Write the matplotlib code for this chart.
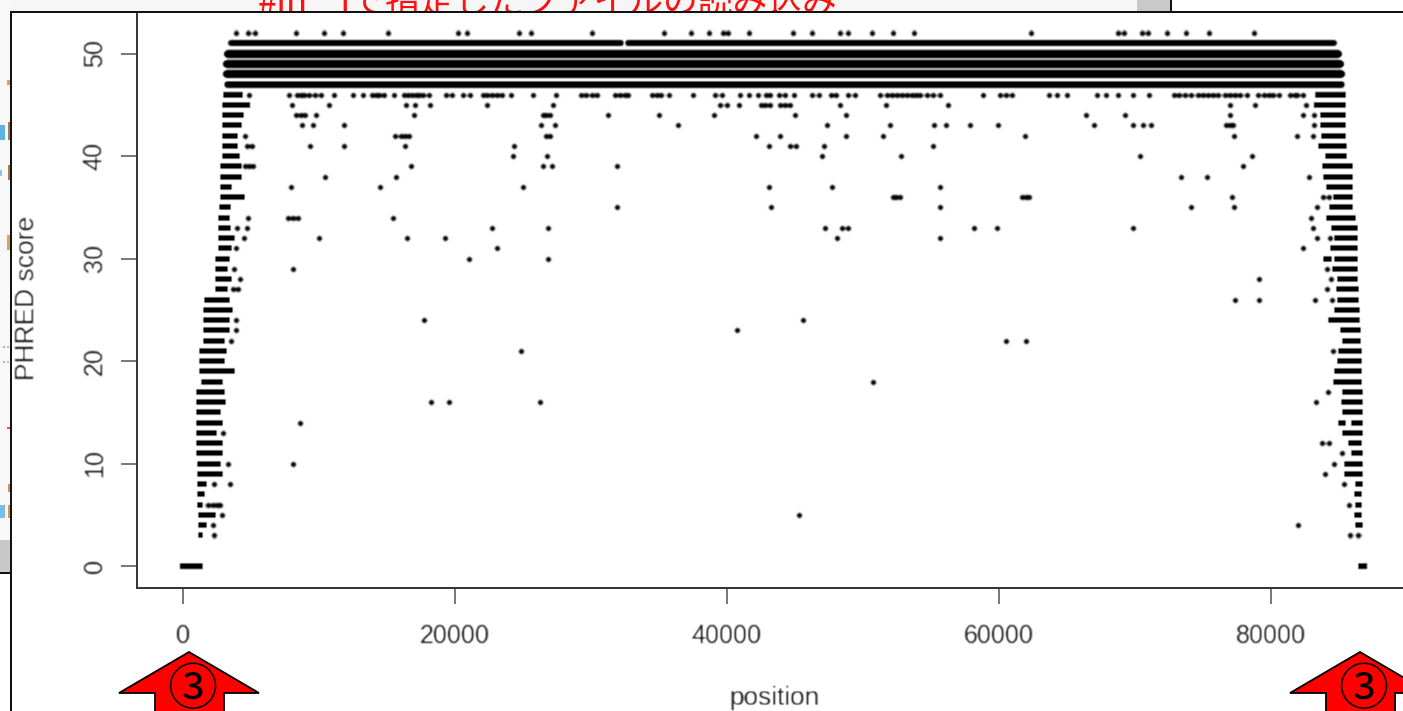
import numpy as np
import matplotlib
matplotlib.use("Agg")
import matplotlib.pyplot as plt
from matplotlib.patches import Polygon, Rectangle
from matplotlib.transforms import Affine2D, Bbox

W, H = 1403, 711

x_ticks = [0, 20000, 40000, 60000, 80000]
y_ticks = [0, 10, 20, 30, 40, 50]
x_label = "position"
y_label = "PHRED score"
clipped_title_head = "#in_"
clipped_title_tail = "fで指定したファイルの読み込み"
arrow_mark = "③"

# dense bands at the top of the plot
band_scores = [51, 51, 50, 49, 48, 47]
band_start = [3500, 32700, 3300, 3250, 3250, 3250]
band_end = [32250, 84650, 84950, 85100, 85150, 85200]

# dense runs at the read start
left_scores = [46, 45, 44, 43, 42, 41, 40, 39, 38, 37, 36, 35, 34, 33, 32, 31, 30, 29, 28, 27, 26, 25, 24,
               23, 22, 21, 20, 19, 18, 17, 16, 15, 14, 13, 12, 11, 10, 9, 8, 7, 6, 5, 4, 3, 0]
left_start = [2940, 2870, 2870, 2870, 2870, 2870, 2870, 2720, 2720, 2720, 2720, 2650, 2570, 2570, 2570, 2570,
              2350, 2350, 2350, 2350, 1540, 1470, 1470, 1470, 1470, 1180, 1180, 1180, 1320, 960, 960, 960, 960,
              960, 960, 960, 1030, 1030, 1030, 1030, 1030, 1100, 1100, 1100, -220]
left_end = [4410, 4930, 4490, 4340, 4040, 4040, 4190, 4340, 4340, 3600, 4560, 3530, 3460, 3530, 3820, 3600,
            3460, 3310, 3600, 3310, 3460, 3680, 3460, 3460, 3090, 3240, 3090, 3820, 2940, 3090, 3160, 2790,
            2940, 2500, 2940, 2940, 2790, 2940, 1760, 1620, 1470, 2430, 1760, 1470, 1470]

# dense runs at the read end
right_scores = [46, 45, 44, 43, 42, 41, 40, 39, 38, 37, 36, 35, 34, 33, 32, 31, 30, 30, 29, 28, 27, 26, 25, 24,
                23, 22, 21, 20, 19, 18, 17, 16, 15, 14, 14, 13, 12, 11, 10, 9, 8, 7, 6, 5, 4, 0]
right_start = [83240, 83160, 83600, 83600, 83680, 83460, 83970, 83750, 83820, 84050, 84560, 84270, 84050, 84410,
               84630, 84340, 83820, 84630, 84490, 84850, 84780, 84850, 84630, 84190, 85070, 85220, 84930, 84850,
               84630, 84560, 85220, 85150, 85220, 84930, 85880, 85220, 85660, 85880, 85370, 85370, 86180, 86100,
               86180, 86100, 86180, 86400]
right_end = [85520, 85520, 85520, 85520, 85520, 85590, 85590, 86030, 86030, 86030, 86030, 86030, 86250, 86400,
             86400, 86400, 84490, 86400, 86400, 86400, 86470, 86470, 86550, 86550, 86620, 86620, 86690, 86690,
             86690, 86690, 86770, 86770, 86770, 85520, 86770, 86770, 86690, 86770, 86770, 86770, 86770, 86690,
             86690, 86690, 86770, 87060]

# isolated reads, one list per score
dots_52 = [3900, 4800, 5300, 8300, 10400, 11800, 15100, 20200, 20900, 24700, 25600, 30100, 35400, 37400, 38700,
           39700, 40100, 41600, 44900, 46250, 48300, 48900, 50700, 52200, 53800, 62400, 68750, 69200, 70500, 71000,
           72400, 73800, 75500, 78800]
dots_46 = [4850, 7790, 8380, 8680, 8900, 9260, 9710, 10150, 11100, 12500, 13240, 13900, 14190, 14410, 14780, 15510,
           16250, 16540, 16840, 17130, 17350, 17650, 18090, 19340, 19780, 20590, 21100, 22060, 22350, 22720, 23090,
           23460, 24120, 25740, 27430, 29270, 29630, 30070, 30440, 31770, 32130, 32500, 32720, 34490, 34850, 35150,
           35740, 37500, 39120, 39630, 40960, 41620, 42280, 42870, 43160, 43820, 44270, 44930, 46250, 46770, 47650,
           48020, 48900, 49410, 51250, 51770, 52130, 52500, 52870, 53240, 53600, 53900, 54190, 54710, 55150, 55660,
           58820, 60070, 60520, 60960, 63680, 64270, 65000, 67210, 67870, 68750, 69850, 71030, 72870, 73240, 73680,
           74120, 74630, 75000, 75370, 75740, 76100, 76620, 76990, 77350, 77720, 78240, 79040, 79540, 79900, 80200,
           80590, 81400, 81760, 81910, 82350]
dots_45 = [8010, 10740, 16400, 17060, 18160, 22350, 27210, 39490, 40000, 40880, 42500, 42790, 43160, 43900, 44270,
           44630, 48310, 51690, 56250, 76990, 78820, 82570]
dots_44 = [8310, 8680, 8970, 9780, 16990, 26470, 26690, 26990, 31250, 35000, 39040, 45000, 48750, 66400, 69270,
           76990, 82350, 83160]
dots_43 = [8750, 9560, 11840, 26320, 27350, 36400, 47350, 51990, 55220, 56100, 57870, 59930, 66990, 69850, 70590,
           71180, 76690, 76990, 77210, 83160]
dots_42 = [4560, 15590, 16030, 16320, 16620, 26690, 26990, 42130, 43900, 48750, 51470, 61910, 77280, 81950, 83090]
dots_41 = [4710, 5070, 9340, 11840, 16320, 24340, 43090, 44630, 45070, 47130, 55150]
dots_40 = [24260, 26760, 46980, 52790, 70370, 78600]
dots_39 = [4560, 4850, 5150, 16760, 26470, 27130, 31910, 77940]
dots_38 = [10440, 15660, 73380, 75300, 82800]
dots_37 = [7940, 14490, 25000, 43090, 47720, 55660]
dots_36 = [52210, 52430, 52720, 61690, 61990, 62210, 77130, 83820, 84270]
dots_35 = [31910, 43240, 55660, 74120, 77280, 83380]
dots_34 = [4780, 7720, 8090, 8460, 15440, 82940]
dots_33 = [3970, 4710, 22720, 26840, 47210, 48460, 48900, 58160, 59850, 69850, 83090]
dots_32 = [4490, 10000, 16470, 19260, 48090, 55660, 83380, 84340]
dots_31 = [3900, 23090, 82350]
dots_30 = [21030, 26840]
dots_29 = [3750, 8090, 84120]
dots_28 = [4190, 79120, 84410]
dots_27 = [3680, 4040, 84120]
dots_26 = [77350, 79120, 83240, 84490]
dots_24 = [3900, 17720, 45590]
dots_23 = [3900, 40740]
dots_22 = [3530, 60520, 61990]
dots_21 = [24850, 84560]
dots_18 = [50740]
dots_17 = [84190]
dots_16 = [18240, 19560, 26250, 83310]
dots_14 = [8600]
dots_13 = [2940]
dots_12 = [83750, 84270]
dots_11 = [85220]
dots_10 = [3310, 8090, 84630]
dots_9 = [83970]
dots_8 = [2280, 3460, 85370]
dots_6 = [1840, 2200, 2500, 2720, 85740]
dots_5 = [2870, 45290]
dots_4 = [2200, 81990]
dots_3 = [2280, 85810, 86400]

dots_by_score = {52: dots_52, 46: dots_46, 45: dots_45, 44: dots_44, 43: dots_43, 42: dots_42, 41: dots_41,
                 40: dots_40, 39: dots_39, 38: dots_38, 37: dots_37, 36: dots_36, 35: dots_35, 34: dots_34,
                 33: dots_33, 32: dots_32, 31: dots_31, 30: dots_30, 29: dots_29, 28: dots_28, 27: dots_27,
                 26: dots_26, 24: dots_24, 23: dots_23, 22: dots_22, 21: dots_21, 18: dots_18, 17: dots_17,
                 16: dots_16, 14: dots_14, 13: dots_13, 12: dots_12, 11: dots_11, 10: dots_10, 9: dots_9,
                 8: dots_8, 6: dots_6, 5: dots_5, 4: dots_4, 3: dots_3}


def soften(image, dpi):
    """Slight blur, the reference is an enlarged screenshot."""
    pad = 3
    img = np.pad(image, ((pad, pad), (pad, pad), (0, 0)), mode="constant")
    kernel = [(-1, 0.25), (0, 0.5), (1, 0.25)]
    out = sum(w * np.roll(img, s, axis=0) for s, w in kernel)
    out = sum(w * np.roll(out, s, axis=1) for s, w in kernel)
    return out, -pad, -pad


plt.rcParams["font.family"] = ["Liberation Sans", "DejaVu Sans"]
fig = plt.figure(figsize=(W / 100, H / 100), dpi=100, facecolor="white")

# pixel based transform for the screenshot furniture around the plot
px = Affine2D().scale(1 / W, -1 / H).translate(0, 1) + fig.transFigure


def rect(x0, y0, x1, y1, color, z=0):
    fig.add_artist(Rectangle((x0, y0), x1 - x0, y1 - y0, transform=px, facecolor=color, edgecolor="none", zorder=z))


rect(0, 0, 1137, 11, "#f6f6f6")
rect(1137, 0, 1170, 11, "#c9c9c9")
rect(0, 0, 10, 540, "#f8f8f8")
rect(0, 540, 10, 572, "#c8c8c8")
rect(0, 572, 10, 574, "#111111", 1)
rect(1170, 0, 1172, 11, "#111111", 1)

# colour crumbs of the window behind
crumb_x0 = [7, 0, 8, 0, 8, 7, 7, 3, 7, 3, 7, 8, 0, 8]
crumb_y0 = [80, 125, 122, 170, 165, 235, 346, 346, 361, 361, 427, 484, 505, 505]
crumb_x1 = [10, 5, 10, 2, 10, 10, 9, 5, 9, 5, 10, 10, 5, 10]
crumb_y1 = [85, 140, 140, 176, 180, 250, 348, 348, 363, 363, 429, 492, 518, 518]
crumb_c = ["#d6a35a", "#5fb0e4", "#a87a50", "#8cc4ec", "#a87a50", "#d8a850", "#b0cc88", "#88c0dc", "#b0cc88",
           "#88c0dc", "#ec5050", "#c09a60", "#78bce8", "#d09a4a"]
for a, b, c, d, col in zip(crumb_x0, crumb_y0, crumb_x1, crumb_y1, crumb_c):
    rect(a, b, c, d, col, 1)

title_clip = Bbox([[0, H - 11], [W, H]])
for start_x, piece in zip([258, 340], [clipped_title_head, clipped_title_tail]):
    part = fig.text(start_x / W, 1 - 13 / H, piece, color="#ff1010", fontsize=25,
                    family=["Noto Sans CJK JP", "DejaVu Sans"], ha="left", va="baseline", zorder=2)
    part.set_clip_box(title_clip)
    part.set_clip_on(True)

ax = fig.add_axes([136.5 / W, (H - 587.5) / H, (W - 136.5) / W, (587.5 - 12) / H], zorder=3)
ax.set_xlim((136.5 - 183) / 0.013596, (W - 183) / 0.013596)
ax.set_ylim((566 - 587.5) / 10.25, (566 - 12) / 10.25)

dot_x = [p for s, vals in dots_by_score.items() for p in vals]
dot_y = [s for s, vals in dots_by_score.items() for _ in vals]

ax.hlines(band_scores[:2], band_start[:2], band_end[:2], color="black", linewidth=4.3, capstyle="round",
          agg_filter=soften)
ax.hlines(band_scores[2:], band_start[2:], band_end[2:], color="black", linewidth=[6, 6, 6, 5], capstyle="round",
          agg_filter=soften)
ax.hlines(left_scores, left_start, left_end, color="black", linewidth=4.3, capstyle="butt", agg_filter=soften)
ax.hlines(right_scores, right_start, right_end, color="black", linewidth=4.3, capstyle="butt", agg_filter=soften)
ax.scatter(dot_x, dot_y, s=18, color="black", linewidths=0, agg_filter=soften)

ax.set_xticks(x_ticks, [str(v) for v in x_ticks])
ax.set_yticks(y_ticks, [str(v) for v in y_ticks])
ax.tick_params(axis="x", length=11.5, width=1.4, color="#777777", labelsize=18, labelcolor="#1e1e1e", pad=15)
ax.tick_params(axis="y", length=11.5, width=1.4, color="#777777", labelsize=18, labelcolor="#1e1e1e", pad=10,
               labelrotation=90)
for lab in ax.get_yticklabels():
    lab.set_va("center")
for lab in ax.get_xticklabels() + ax.get_yticklabels():
    lab.set_agg_filter(soften)

ax.spines["right"].set_visible(False)
ax.spines["top"].set_visible(False)
for side in ("left", "bottom"):
    ax.spines[side].set_color("#333333")
    ax.spines[side].set_linewidth(1.4)

fig.text(774 / W, 1 - 698 / H, x_label, color="#1e1e1e", fontsize=18.8, ha="center", va="center", agg_filter=soften)
fig.text(27 / W, 1 - 298 / H, y_label, color="#1e1e1e", fontsize=19, rotation=90, ha="center", va="center",
         agg_filter=soften)

# window frame
rect(10, 11, W, 13, "#111111", 5)
rect(10, 11, 12, H, "#111111", 5)

# red arrows
arrow_tip_x = [189, 1360]
for tip in arrow_tip_x:
    pts = [(tip, 652), (tip + 70, 693), (tip + 35, 693), (tip + 35, H + 5), (tip - 34, H + 5), (tip - 34, 693),
           (tip - 70, 693)]
    fig.add_artist(Polygon(pts, closed=True, transform=px, facecolor="#ff0000", edgecolor="black", linewidth=1.3,
                           zorder=6))
    fig.text((tip + 3) / W, 1 - 691 / H, arrow_mark, fontsize=36, color="black", ha="center", va="center",
             family=["Noto Sans CJK JP", "DejaVu Sans"], zorder=7)

fig.savefig("out.png", dpi=100)
